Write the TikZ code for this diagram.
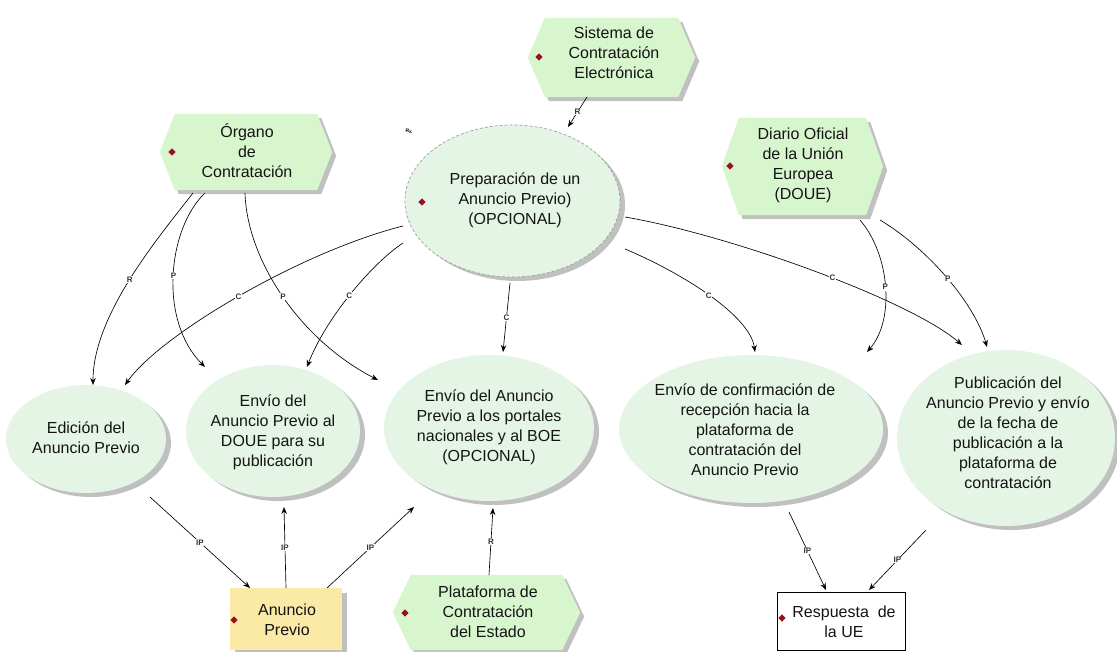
\documentclass[tikz,border=0pt]{standalone}
\usepackage{fontspec}
\setmainfont{Liberation Sans}
\usetikzlibrary{arrows.meta,calc,shadows,shapes.geometric}
\definecolor{ellfill}{RGB}{228,245,230}
\definecolor{hexfill}{RGB}{216,246,206}
\definecolor{yelfill}{RGB}{251,233,166}
\definecolor{shadecol}{RGB}{192,192,192}
\definecolor{reddot}{RGB}{150,20,25}
\newcommand\hexfill[2]{%
  \fill[shadecol] ([xshift=4pt,yshift=-4pt]#1.west) -- ([xshift=#2+4pt,yshift=-4pt]#1.north west) -- ([xshift=-#2+4pt,yshift=-4pt]#1.north east) -- ([xshift=4pt,yshift=-4pt]#1.east) -- ([xshift=-#2+4pt,yshift=-4pt]#1.south east) -- ([xshift=#2+4pt,yshift=-4pt]#1.south west) -- cycle;
  \fill[hexfill] (#1.west) -- ([xshift=#2]#1.north west) -- ([xshift=-#2]#1.north east) -- (#1.east) -- ([xshift=-#2]#1.south east) -- ([xshift=#2]#1.south west) -- cycle;}
\newcommand\reddia[1]{\fill[reddot] #1 +(0,-3.6) -- +(3.6,0) -- +(0,3.6) -- +(-3.6,0) -- cycle;}
\tikzset{
  ell/.style={ellipse, fill=ellfill, inner sep=0pt, draw=none,
    drop shadow={shadow xshift=5pt, shadow yshift=-4pt, fill=shadecol, opacity=1}},
  hexbox/.style={rectangle, inner sep=0pt, draw=none},
  txt/.style={align=center, inner sep=0pt, font=\fontsize{16}{20}\selectfont, text=black!92},
  conn/.style={draw=black, line width=0.65pt, -{Stealth[length=7pt,width=5.5pt]}},
  lbl/.style={fill=white, inner sep=0.7pt, font=\fontsize{8}{8}\selectfont\bfseries, text=black!80},
}
\begin{document}
\begin{tikzpicture}[x=1pt,y=-1pt]
\useasboundingbox (0,0) rectangle (1117,652);

% hexagons
\node[hexbox, minimum width=167pt, minimum height=79pt] (sis) at (611.5,57.5) {};
\hexfill{sis}{17pt}
\node[txt] (sist) at (614,53) {Sistema de\\Contratación\\Electrónica};
\reddia{(539,57)}

\node[hexbox, minimum width=172pt, minimum height=76pt] (org) at (246,152) {};
\hexfill{org}{15pt}
\node[txt] (orgt) at (247,151) {Órgano\\de\\Contratación};
\reddia{(172,152)}

\node[hexbox, minimum width=161pt, minimum height=97pt] (dia) at (802.5,166.5) {};
\hexfill{dia}{17pt}
\node[txt] (diat) at (803,165) {Diario Oficial\\de la Unión\\Europea\\(DOUE)};
\reddia{(730,166)}

\node[hexbox, minimum width=187pt, minimum height=75pt] (pla) at (486.5,612.5) {};
\hexfill{pla}{18pt}
\node[txt] (plat) at (488,612) {Plataforma de\\Contratación\\del Estado};
\reddia{(405,613)}

% ellipses
\node[ell, minimum width=215pt, minimum height=152pt, draw=gray!75, dash pattern=on 3pt off 2pt, line width=0.7pt] (prep) at (512.5,201) {};
\node[txt] (prept) at (515,200) {Preparación de un\\Anuncio Previo)\\(OPCIONAL)};
\reddia{(422,202)}
\node[font=\fontsize{5}{5}\selectfont\bfseries, inner sep=0pt] (icon) at (409,131) {R\textsubscript{x}};

\node[ell, minimum width=160pt, minimum height=108pt] (edi) at (86,439) {};
\node[txt] (edit) at (86,437.5) {Edición del\\Anuncio Previo};

\node[ell, minimum width=174pt, minimum height=132pt] (env1) at (273,431) {};
\node[txt] (env1t) at (273,432.5) {Envío del\\Anuncio Previo al\\DOUE para su\\publicación};

\node[ell, minimum width=210pt, minimum height=146pt] (env2) at (489,428) {};
\node[txt] (env2t) at (489,427) {Envío del Anuncio\\Previo a los portales\\nacionales y al BOE\\(OPCIONAL)};

\node[ell, minimum width=264pt, minimum height=148pt] (conf) at (751,429) {};
\node[txt] (conft) at (745,430) {Envío de confirmación de\\recepción hacia la\\plataforma de\\contratación del\\Anuncio Previo};

\node[ell, minimum width=218pt, minimum height=176pt] (pub) at (1006,438) {};
\node[txt] (pubt) at (1008,433) {Publicación del\\Anuncio Previo y envío\\de la fecha de\\publicación a la\\plataforma de\\contratación};

% rectangles
\node[rectangle, fill=yelfill, inner sep=0pt, minimum width=112pt, minimum height=62pt,
  drop shadow={shadow xshift=5pt, shadow yshift=-5pt, fill=shadecol, opacity=1}] (anu) at (286,619) {};
\node[txt] (anut) at (287,620) {Anuncio\\Previo};
\reddia{(234,620)}

\node[rectangle, fill=white, draw=black, line width=0.8pt, inner sep=0pt, minimum width=128pt, minimum height=58pt] (res) at (841,621) {};
\node[txt] (rest) at (844,622) {Respuesta\ \ de\\la UE};
\reddia{(782,618)}

% connectors
\draw[conn] ($(sis.center)+(-24.5,39.5)$) -- node[lbl]{R} ($(prep.center)+(55.5,-74)$);

\draw[conn] ($(org.center)+(-53,41)$) .. controls (158,238) and (93,315) .. ($(edi.center)+(7,-54)$) node[lbl,pos=0.5]{R};
\draw[conn] ($(org.center)+(-41,41)$) .. controls (168,228) and (158,320) .. ($(env1.center)+(-68,-64)$) node[lbl,pos=0.5]{P};
\draw[conn] ($(org.center)+(-1,41)$) .. controls (247,260) and (300,340) .. ($(env2.center)+(-111,-48)$) node[lbl,pos=0.5]{P};

\draw[conn] ($(prep.center)+(-109.5,25)$) .. controls (300,252) and (160,335) .. ($(edi.center)+(39,-54)$) node[lbl,pos=0.5]{C};
\draw[conn] ($(prep.center)+(-109.5,42)$) .. controls (370,265) and (325,320) .. ($(env1.center)+(34,-64)$) node[lbl,pos=0.5]{C};
\draw[conn] ($(prep.center)+(-2.5,82)$) -- node[lbl]{C} ($(env2.center)+(14,-76)$);
\draw[conn] ($(prep.center)+(112.5,48)$) .. controls (680,272) and (750,315) .. ($(conf.center)+(4,-77)$) node[lbl,pos=0.5]{C};
\draw[conn] ($(prep.center)+(112.5,16)$) .. controls (730,235) and (910,300) .. ($(pub.center)+(-44,-93)$) node[lbl,pos=0.55]{C};

\draw[conn] ($(dia.center)+(57.5,53.5)$) .. controls (890,255) and (895,320) .. ($(conf.center)+(116,-77)$) node[lbl,pos=0.5]{P};
\draw[conn] ($(dia.center)+(77.5,53.5)$) .. controls (930,250) and (975,305) .. ($(pub.center)+(-19,-91)$) node[lbl,pos=0.5]{P};

\draw[conn] ($(edi.center)+(64,58)$) -- node[lbl]{IP} ($(anu.center)+(-36,-31)$);
\draw[conn] ($(anu.center)+(0,-31)$) -- node[lbl]{IP} ($(env1.center)+(11,76)$);
\draw[conn] ($(anu.center)+(41,-31)$) -- node[lbl]{IP} ($(env2.center)+(-75,79)$);
\draw[conn] ($(pla.center)+(2.5,-37.5)$) -- node[lbl]{R} ($(env2.center)+(4,80)$);
\draw[conn] ($(conf.center)+(38,83)$) -- node[lbl]{IP} ($(res.center)+(-15,-31)$);
\draw[conn] ($(pub.center)+(-80,92)$) -- node[lbl]{IP} ($(res.center)+(28,-31)$);
\end{tikzpicture}
\end{document}
